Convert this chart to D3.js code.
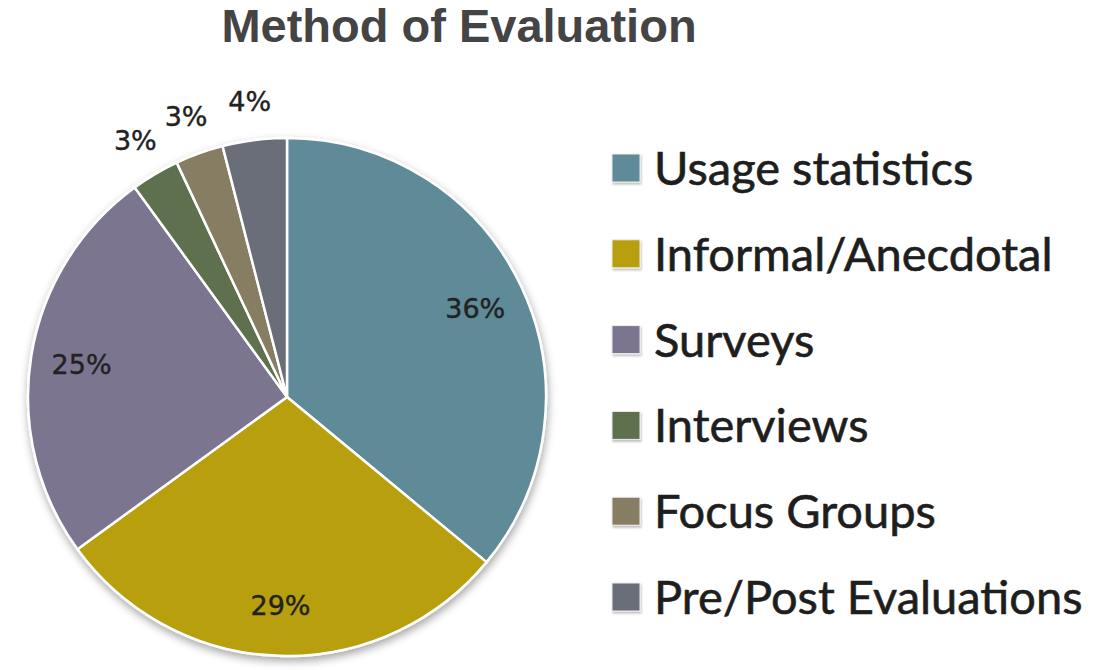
<!DOCTYPE html>
<html>
<head>
<meta charset="utf-8">
<script src="https://cdn.jsdelivr.net/npm/d3@7"></script>
<style>
  body { margin: 0; background: #fff; }
</style>
</head>
<body>
<div id="chart"></div>
<script>
// data
var categories = ["Usage statistics", "Informal/Anecdotal", "Surveys", "Interviews", "Focus Groups", "Pre/Post Evaluations"];
var values = [36, 29, 25, 3, 3, 4];
var colors = ["#5f8a97", "#b89f0b", "#7b7590", "#5e7050", "#877d62", "#6b6e78"];

var width = 1096, height = 670;
var cx = 287, cy = 397, radius = 259;

var svg = d3.select("#chart").append("svg")
    .attr("width", width)
    .attr("height", height);

// soft shadow under the pie
var defs = svg.append("defs");
var f = defs.append("filter").attr("id", "shadow")
    .attr("x", "-10%").attr("y", "-10%").attr("width", "120%").attr("height", "125%");
f.append("feDropShadow")
    .attr("dx", 1).attr("dy", 4).attr("stdDeviation", 4)
    .attr("flood-color", "#000").attr("flood-opacity", 0.35);

var lf = defs.append("filter").attr("id", "lshadow")
    .attr("x", "-20%").attr("y", "-20%").attr("width", "150%").attr("height", "150%");
lf.append("feDropShadow")
    .attr("dx", 1).attr("dy", 2).attr("stdDeviation", 1)
    .attr("flood-color", "#000").attr("flood-opacity", 0.25);

// title
svg.append("text")
    .attr("x", 459).attr("y", 42)
    .attr("text-anchor", "middle")
    .style("font-family", "'Liberation Sans', Arial, sans-serif")
    .style("font-weight", "bold")
    .style("font-size", "47px")
    .style("fill", "#444")
    .text("Method of Evaluation");

var pie = d3.pie().sort(null).value(function(d) { return d; });
var arcs = pie(values);
var arc = d3.arc().innerRadius(0).outerRadius(radius);

var g = svg.append("g").attr("transform", "translate(" + cx + "," + cy + ")");

g.append("g").attr("filter", "url(#shadow)")
  .selectAll("path")
  .data(arcs)
  .enter().append("path")
    .attr("d", arc)
    .attr("fill", function(d, i) { return colors[i]; })
    .attr("stroke", "#fff")
    .attr("stroke-width", 2.5)
    .attr("stroke-linejoin", "round");

// labels: inside for big slices, outside for small ones
var inArc = d3.arc().innerRadius(208).outerRadius(208);
var outArc = d3.arc().innerRadius(298).outerRadius(298);

g.selectAll("text.lbl")
  .data(arcs)
  .enter().append("text")
    .attr("class", "lbl")
    .attr("transform", function(d) {
        var c = d.data >= 10 ? inArc.centroid(d) : outArc.centroid(d);
        return "translate(" + c + ")";
    })
    .attr("text-anchor", "middle")
    .attr("dy", "0.36em")
    .style("font-family", "'DejaVu Sans', Verdana, sans-serif")
    .style("font-size", "27px")
    .style("fill", "#222")
    .style("stroke", "#222")
    .style("stroke-width", 0.4)
    .text(function(d) { return d.data + "%"; });

// legend
var legend = svg.append("g").attr("transform", "translate(612,0)");
var rowY = d3.scalePoint().domain(categories).range([168, 597]);

var item = legend.selectAll("g")
  .data(categories)
  .enter().append("g")
    .attr("transform", function(d) { return "translate(0," + rowY(d) + ")"; });

item.append("rect")
    .attr("x", 0).attr("y", -14)
    .attr("width", 28).attr("height", 28)
    .attr("fill", function(d, i) { return colors[i]; })
    .attr("stroke", "#eee")
    .attr("stroke-width", 1)
    .attr("filter", "url(#lshadow)");

item.append("text")
    .attr("x", 42).attr("y", 0)
    .attr("dy", "0.36em")
    .style("font-family", "Lato, 'Open Sans', sans-serif")
    .style("font-size", "47px")
    .style("fill", "#1e1e1e")
    .style("stroke", "#1e1e1e")
    .style("stroke-width", 0.6)
    .text(function(d) { return d; });
</script>
</body>
</html>
